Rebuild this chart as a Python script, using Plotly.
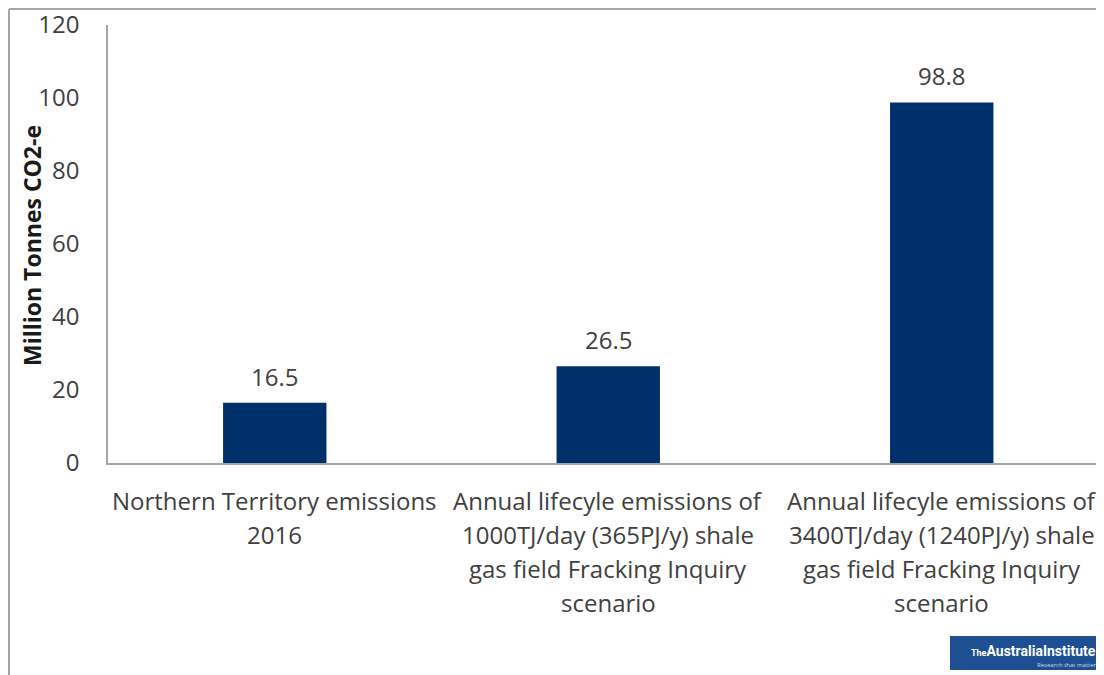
import plotly.graph_objects as go

categories = ["Northern Territory emissions 2016",
              "Annual lifecyle emissions of 1000TJ/day (365PJ/y) shale gas field Fracking Inquiry scenario",
              "Annual lifecyle emissions of 3400TJ/day (1240PJ/y) shale gas field Fracking Inquiry scenario"]
category_lines = [
    ["Northern Territory emissions", "2016"],
    ["Annual lifecyle emissions of", "1000TJ/day (365PJ/y) shale", "gas field Fracking Inquiry", "scenario"],
    ["Annual lifecyle emissions of", "3400TJ/day (1240PJ/y) shale", "gas field Fracking Inquiry", "scenario"],
]
values = [16.5, 26.5, 98.8]
y_ticks = [0, 20, 40, 60, 80, 100, 120]
y_title = "Million Tonnes CO2-e"

OFF = 8  # page body margin
W, H = 1104 - OFF, 675 - OFF
ML, MR, MT, MB = 108 - OFF, 0, 25 - OFF, 675 - 463
PW, PH = W - ML - MR, H - MT - MB

def px_x(x):
    return (x - OFF - ML) / PW

def px_y(y):
    return (H - MB - (y - OFF)) / PH

FONT = "Open Sans"
TXT = "#404040"
GRID = "#A6A6A6"
BAR = "#00306B"

xs = list(range(len(categories)))
fig = go.Figure(go.Bar(x=xs, y=values, width=0.31, marker=dict(color=BAR, line=dict(width=0)),
                       hoverinfo="skip"))

ann = []
for x, v in zip(xs, values):
    ann.append(dict(x=x, y=v, xref="x", yref="y", text=f"{v:.1f}", showarrow=False,
                    yanchor="bottom", yshift=8, font=dict(family=FONT, size=24, color=TXT)))
for x, lines in zip(xs, category_lines):
    for i, line in enumerate(lines):
        ann.append(dict(x=x, y=0, xref="x", yref="paper", text=line, showarrow=False,
                        yanchor="middle", yshift=-37 - i * 34.3,
                        font=dict(family=FONT, size=24, color=TXT)))
ann.append(dict(x=px_x(32), y=px_y(246), xref="paper", yref="paper", text=f"<b>{y_title}</b>",
                textangle=-90, showarrow=False, xanchor="center", yanchor="middle",
                font=dict(family=FONT, size=23, color="#1a1a1a")))
# logo
ann.append(dict(x=px_x(1098), y=px_y(651), xref="paper", yref="paper",
                text="<b><span style='font-size:9px'>The</span>AustraliaInstitute</b>", showarrow=False,
                xanchor="right", yanchor="middle", font=dict(family="Roboto", size=14, color="white")))
ann.append(dict(x=px_x(1101), y=px_y(665), xref="paper", yref="paper",
                text="Research that matters", showarrow=False,
                xanchor="right", yanchor="middle", font=dict(family=FONT, size=6, color="#d0d8e8")))

shapes = [
    dict(type="line", xref="paper", yref="paper", x0=px_x(9), x1=1.0, y0=px_y(9), y1=px_y(9),
         line=dict(color=GRID, width=2)),
    dict(type="line", xref="paper", yref="paper", x0=px_x(9), x1=px_x(9), y0=px_y(9), y1=px_y(675),
         line=dict(color=GRID, width=2)),
    dict(type="rect", xref="paper", yref="paper", x0=px_x(950), x1=1.0, y0=px_y(670), y1=px_y(636),
         fillcolor="#1E4F93", line=dict(width=0)),
]

fig.update_layout(
    width=W, height=H, margin=dict(l=ML, r=MR, t=MT, b=MB),
    paper_bgcolor="white", plot_bgcolor="white", showlegend=False,
    annotations=ann, shapes=shapes,
    xaxis=dict(range=[-0.5, -0.5 + PW / 333.5], showticklabels=False, showgrid=False, zeroline=False,
               showline=True, linecolor=GRID, linewidth=1.5, ticks=""),
    yaxis=dict(range=[0, 120], tickvals=y_ticks, showgrid=False, zeroline=False,
               showline=True, linecolor=GRID, linewidth=1.5, ticks="", ticklabelstandoff=22,
               ticklabeloverflow="allow",
               tickfont=dict(family=FONT, size=24, color=TXT)),
    font=dict(family=FONT),
)
fig.write_html("out.html")
